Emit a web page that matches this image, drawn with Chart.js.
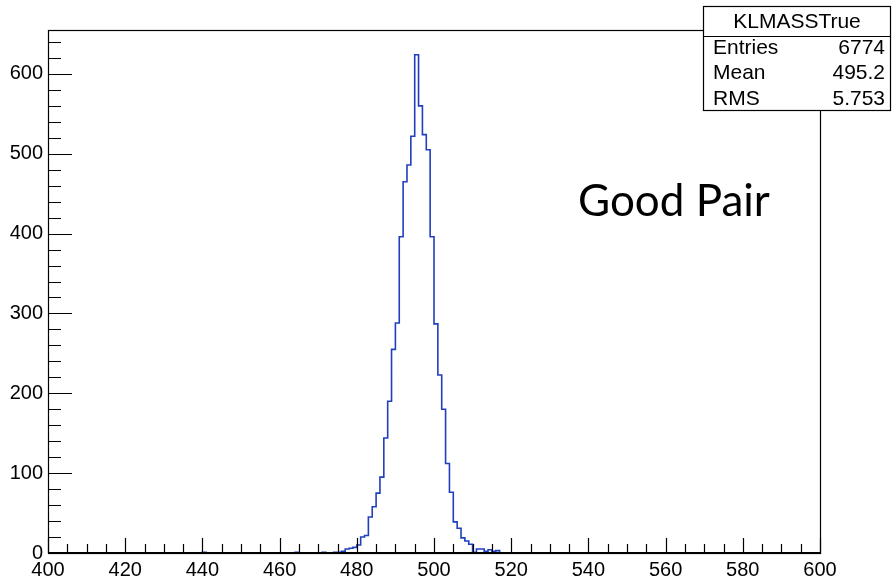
<!DOCTYPE html>
<html>
<head>
<meta charset="utf-8">
<title>KLMASSTrue</title>
<script src="https://cdn.jsdelivr.net/npm/chart.js@4.4.1/dist/chart.umd.min.js"></script>
<style>
  html, body { margin: 0; padding: 0; background: #fff; }
  #wrap { width: 892px; height: 579px; }
</style>
</head>
<body>
<div id="wrap"><canvas id="massChart" width="892" height="579"></canvas></div>
<script>
// ===================================
// KL mass histogram (1 MeV bins, 400-600)
// ===================================

const histMin = 400;
const histMax = 600;
const binWidth = 1;

// lower edge of every non-empty bin and its count
const binLow = [
  440, 464, 471, 474, 475, 476, 477, 478, 479,
  480, 481, 482, 483, 484, 485, 486, 487, 488, 489,
  490, 491, 492, 493, 494, 495, 496, 497, 498, 499,
  500, 501, 502, 503, 504, 505, 506, 507, 508, 509,
  510, 511, 512, 513, 514, 515, 516
];
const counts = [
  1, 1, 1, 1, 1, 2, 5, 6, 7,
  10, 20, 22, 45, 58, 75, 95, 144, 190, 255,
  288, 396, 465, 486, 522, 624, 560, 524, 505, 396,
  287, 223, 180, 112, 76, 39, 31, 19, 15, 11,
  1, 5, 5, 2, 4, 2, 3
];

// axis labels
const xMajorTicks = [400, 420, 440, 460, 480, 500, 520, 540, 560, 580, 600];
const yMajorTicks = [0, 100, 200, 300, 400, 500, 600];
const yMax = 655;

// stats box
const statsTitle = 'KLMASSTrue';
const statsLabels = ['Entries', 'Mean', 'RMS'];
const statsValues = ['6774', '495.2', '5.753'];

const noteText = 'Good Pair';

// build full bin list, empty bins at zero
const nBins = Math.round((histMax - histMin) / binWidth);
const binCounts = new Array(nBins).fill(0);
binLow.forEach((b, i) => { binCounts[Math.round((b - histMin) / binWidth)] = counts[i]; });
const histPoints = binCounts.map((c, i) => ({ x: histMin + i * binWidth, y: c }));
histPoints.push({ x: histMax, y: 0 });

const lineBlue = '#1f3fbf';
const tickFont = { family: '"Liberation Sans", Arial, sans-serif', size: 20 };

// frame, inward ticks, stats box and note
const rootStylePlugin = {
  id: 'rootStyle',
  afterDatasetsDraw(chart) {
    const { ctx, chartArea: a, scales: { x, y } } = chart;
    ctx.save();
    ctx.strokeStyle = '#000';
    ctx.lineWidth = 1.2;
    ctx.strokeRect(a.left + 0.5, a.top + 0.5, a.right - a.left, a.bottom - a.top);

    // x axis line drawn over the empty bins
    ctx.lineWidth = 1.8;
    ctx.beginPath();
    ctx.moveTo(a.left, a.bottom);
    ctx.lineTo(a.right + 1, a.bottom);
    ctx.stroke();

    ctx.lineWidth = 1.2;
    ctx.beginPath();
    for (let v = histMin; v <= histMax; v += 5) {
      const px = Math.round(x.getPixelForValue(v)) + 0.5;
      const len = v % 20 === 0 ? 15 : 9;
      ctx.moveTo(px, a.bottom);
      ctx.lineTo(px, a.bottom - len);
    }
    for (let v = 0; v <= yMax; v += 20) {
      const py = Math.round(y.getPixelForValue(v)) + 0.5;
      const len = v % 100 === 0 ? 24 : 13;
      ctx.moveTo(a.left, py);
      ctx.lineTo(a.left + len, py);
    }
    ctx.stroke();

    // stats box
    const bx = 703.5, by = 6.5, bw = 187, bh = 104;
    ctx.fillStyle = '#fff';
    ctx.fillRect(bx, by, bw, bh);
    ctx.lineWidth = 1.2;
    ctx.strokeRect(bx, by, bw, bh);
    ctx.beginPath();
    ctx.moveTo(bx, 36.5);
    ctx.lineTo(bx + bw, 36.5);
    ctx.stroke();

    ctx.fillStyle = '#000';
    ctx.font = '21px "Liberation Sans", Arial, sans-serif';
    ctx.textBaseline = 'middle';
    ctx.textAlign = 'center';
    ctx.fillText(statsTitle, bx + bw / 2, 22);
    statsLabels.forEach((lab, i) => {
      const ty = 48 + i * 25.5;
      ctx.textAlign = 'left';
      ctx.fillText(lab, 713, ty);
      ctx.textAlign = 'right';
      ctx.fillText(statsValues[i], 885, ty);
    });

    // note in the plot
    ctx.font = '44px Lato, "Open Sans", sans-serif';
    ctx.textAlign = 'left';
    ctx.textBaseline = 'alphabetic';
    ctx.fillText(noteText, 578, 216, 192);
    ctx.restore();
  }
};

new Chart(document.getElementById('massChart'), {
  type: 'line',
  data: {
    datasets: [{
      label: statsTitle,
      data: histPoints,
      stepped: 'before',
      borderColor: lineBlue,
      borderWidth: 1.6,
      pointRadius: 0,
      fill: false,
      tension: 0
    }]
  },
  options: {
    responsive: false,
    animation: false,
    devicePixelRatio: 1,
    layout: { padding: { top: 30, right: 72, left: 0, bottom: 0 } },
    plugins: {
      legend: { display: false },
      tooltip: { enabled: false }
    },
    scales: {
      x: {
        type: 'linear',
        min: histMin,
        max: histMax,
        afterFit: s => { s.height = 26; },
        afterBuildTicks: s => { s.ticks = xMajorTicks.map(v => ({ value: v })); },
        grid: { display: false, drawTicks: false },
        border: { display: false },
        ticks: { color: '#000', font: tickFont, padding: 5, maxRotation: 0, autoSkip: false }
      },
      y: {
        type: 'linear',
        min: 0,
        max: yMax,
        afterFit: s => { s.width = 48; },
        afterBuildTicks: s => { s.ticks = yMajorTicks.map(v => ({ value: v })); },
        grid: { display: false, drawTicks: false },
        border: { display: false },
        ticks: { color: '#000', font: tickFont, padding: 5, autoSkip: false }
      }
    }
  },
  plugins: [rootStylePlugin]
});
</script>
</body>
</html>
